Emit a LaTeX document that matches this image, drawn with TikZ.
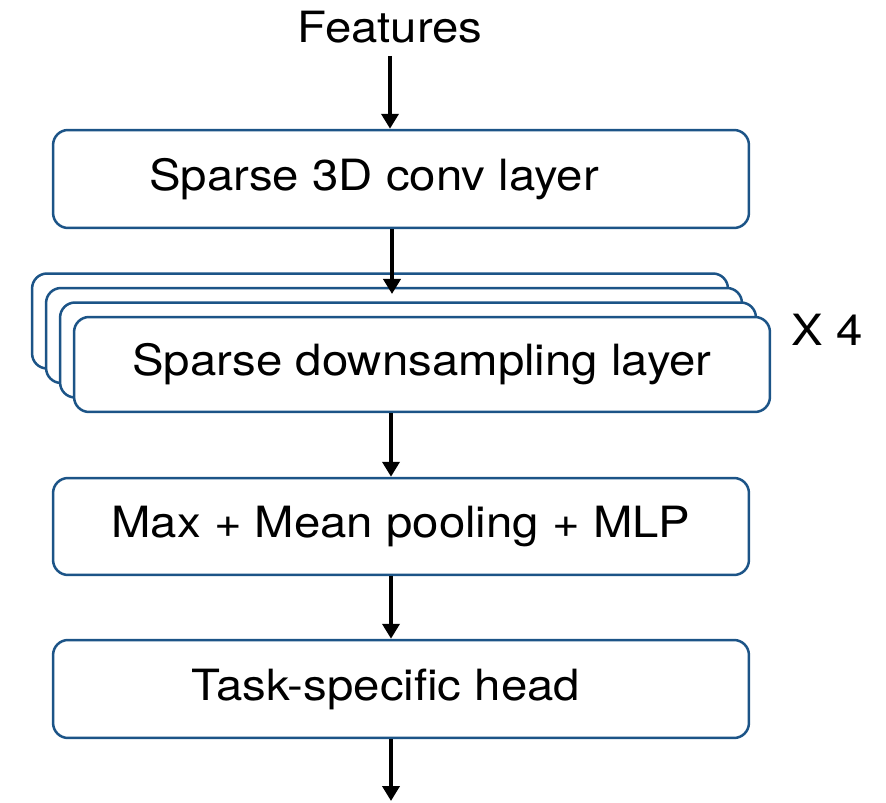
\documentclass[tikz,border=0pt]{standalone}
\usepackage{fontspec}
\setmainfont{TeX Gyre Heros}[FakeStretch=1.1]
\usetikzlibrary{arrows.meta}
\definecolor{boxblue}{RGB}{28,84,135}
\tikzset{
  layer/.style={draw=boxblue, line width=0.05cm, fill=white, rounded corners=0.3cm, minimum width=13.92cm, inner sep=0pt},
  flow/.style={line width=0.075cm, -{Triangle[length=0.3cm,width=0.34cm]}}
}

\begin{document}
\begin{tikzpicture}[x=0.02cm,y=-0.02cm, font=\fontsize{24.5}{29}\selectfont]
\useasboundingbox (0,0) rectangle (886,803);
\node[anchor=base] (feat) at (390,43) {Features};
\node[layer, minimum height=1.96cm] (conv) at (401,179) {Sparse 3D conv layer\hspace*{1.08cm}};
\foreach \i in {3,2,1}
  \node[layer, minimum height=1.9cm] (down\i) at (422-14*\i,364.5-14.5*\i) {};
\node[layer, minimum height=1.9cm] (down) at (422,364.5) {Sparse downsampling layer};
\node (times) at (827,330) {X 4};
\node[layer, minimum height=1.94cm] (pool) at (401,526.5) {Max + Mean pooling + MLP};
\node[layer, minimum height=1.96cm] (head) at (401,689) {Task-specific head\hspace*{0.6cm}};
\coordinate (stackin) at (392,294);
\coordinate (out) at (391,801);

\draw[flow, shorten <=0.12cm] (feat.south) -- (conv.north -| feat.south);
\draw[flow] (conv.south -| stackin) -- (stackin);
\draw[flow] (down.south -| out) -- (pool.north -| out);
\draw[flow] (pool.south -| out) -- (head.north -| out);
\draw[flow] (head.south -| out) -- (out);
\end{tikzpicture}
\end{document}
